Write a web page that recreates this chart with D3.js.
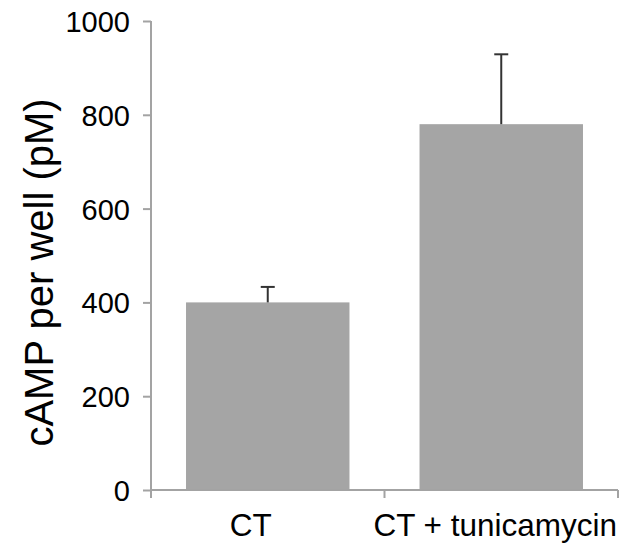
<!DOCTYPE html>
<html>
<head>
<meta charset="utf-8">
<script src="https://cdn.jsdelivr.net/npm/d3@7"></script>
<style>
  body { margin: 0; background: #fff; }
  svg text { font-family: "Liberation Sans", Arial, sans-serif; fill: #000; }
</style>
</head>
<body>
<svg id="chart" width="627" height="550"></svg>
<script>
// data
const categories = ['CT', 'CT + tunicamycin'];
const means = [400, 780];
const errUpper = [433, 929];
const yTicks = [0, 200, 400, 600, 800, 1000];
const yTitle = 'cAMP per well (pM)';

const X0 = 151, X1 = 618, Y0 = 490, Y1 = 21;
const AXIS_COL = '#a3a3a3';
const BAR_COL = '#a5a5a5';

const svg = d3.select('#chart');

const x = d3.scaleBand().domain(categories).range([X0, X1]).paddingInner(0).paddingOuter(0);
const y = d3.scaleLinear().domain([0, 1000]).range([Y0, Y1]);
const barW = x.bandwidth() * 0.7;

// bars
svg.append('g').selectAll('rect').data(categories).join('rect')
  .attr('x', (d) => x(d) + (x.bandwidth() - barW) / 2)
  .attr('y', (d, i) => y(means[i]))
  .attr('width', barW)
  .attr('height', (d, i) => y(0) - y(means[i]))
  .attr('fill', BAR_COL);

// upper error bars only
const gErr = svg.append('g').attr('stroke', '#333').attr('stroke-width', 2);
categories.forEach((c, i) => {
  const cx = x(c) + x.bandwidth() / 2;
  gErr.append('line').attr('x1', cx).attr('x2', cx).attr('y1', y(means[i])).attr('y2', y(errUpper[i]));
  gErr.append('line').attr('x1', cx - 7).attr('x2', cx + 7).attr('y1', y(errUpper[i])).attr('y2', y(errUpper[i]));
});

// y axis
const yAxis = svg.append('g').attr('transform', `translate(${X0},0)`)
  .call(d3.axisLeft(y).tickValues(yTicks).tickSize(8).tickPadding(13).tickFormat(d3.format('d')));
yAxis.select('.domain').attr('stroke', AXIS_COL).attr('stroke-width', 2).attr('d', `M0,${Y0}V${Y1}`);
yAxis.selectAll('.tick line').attr('stroke', AXIS_COL).attr('stroke-width', 2);
yAxis.selectAll('.tick text').attr('font-size', 29).attr('dy', '0.36em');

// x axis: ticks at band boundaries
const gx = svg.append('g');
gx.append('line').attr('x1', X0).attr('x2', X1).attr('y1', Y0).attr('y2', Y0)
  .attr('stroke', AXIS_COL).attr('stroke-width', 2);
const bounds = categories.map((c) => x(c)).concat([X1]);
gx.selectAll('line.tk').data(bounds).join('line').attr('class', 'tk')
  .attr('x1', (d) => d).attr('x2', (d) => d).attr('y1', Y0).attr('y2', Y0 + 8)
  .attr('stroke', AXIS_COL).attr('stroke-width', 2);
gx.selectAll('text').data(categories).join('text')
  .attr('x', (d, i) => x(d) + x.bandwidth() / 2 - (i === 0 ? 17 : 6))
  .attr('y', 536)
  .attr('text-anchor', 'middle')
  .attr('font-size', 31.5)
  .text((d) => d);

// y title
svg.append('text')
  .attr('transform', `translate(53,${(73 + 472) / 2}) rotate(-90)`)
  .attr('text-anchor', 'middle')
  .attr('font-size', 40)
  .text(yTitle);
</script>
</body>
</html>
